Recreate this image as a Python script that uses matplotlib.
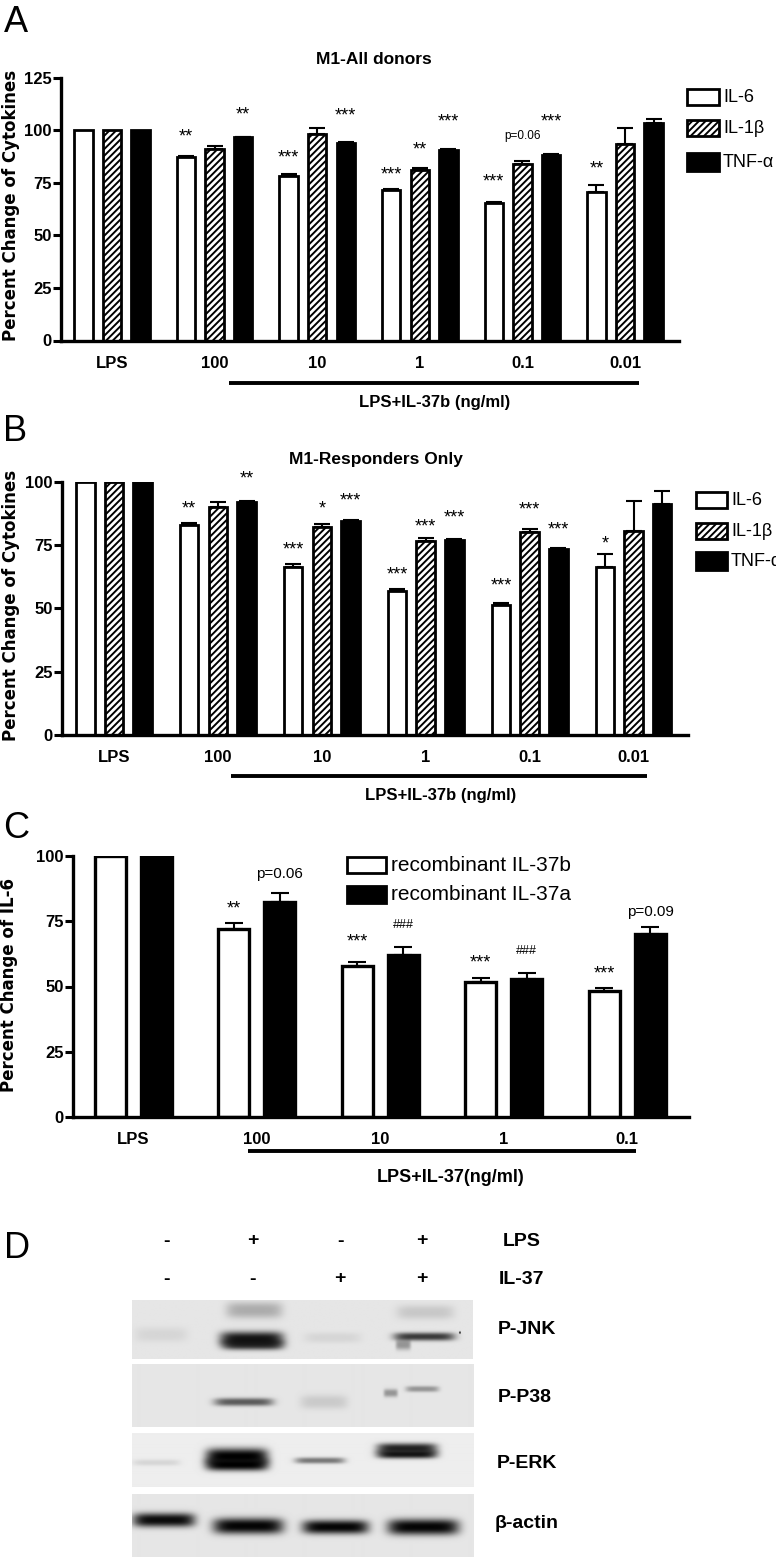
import numpy as np
import matplotlib
matplotlib.use('Agg')
import matplotlib.pyplot as plt
from matplotlib.patches import Rectangle

plt.rcParams['font.family'] = ['Liberation Sans', 'DejaVu Sans']
plt.rcParams['hatch.linewidth'] = 1.4

W, H = 776, 1561

# panel A
groups_a = ['LPS', '100', '10', '1', '0.1', '0.01']
il6_a = [100, 87, 78.3, 71.5, 65.2, 70.7]
il1_a = [100, 90.8, 98.1, 81, 83.9, 93.2]
tnf_a = [100, 96.5, 94, 90.7, 88.3, 103.2]
il6_a_err = [0, 0.8, 0.7, 0.7, 0.6, 3.2]
il1_a_err = [0, 1.8, 2.7, 1, 1.2, 7.9]
tnf_a_err = [0, 0.3, 0.3, 0.1, 0.3, 2.3]
notes_a = [(0, 1, '**', 99.5), (0, 2, '***', 89.5), (0, 3, '***', 81.5), (0, 4, '***', 78), (0, 5, '**', 84),
           (1, 3, '**', 93.4), (2, 1, '**', 110), (2, 2, '***', 109.5), (2, 3, '***', 106.3), (2, 4, '***', 106.3)]

# panel B
groups_b = ['LPS', '100', '10', '1', '0.1', '0.01']
il6_b = [100, 82.9, 66.5, 56.8, 51.5, 66.5]
il1_b = [100, 90, 82, 76.5, 80, 80.5]
tnf_b = [100, 92, 84.5, 77, 73.5, 91]
il6_b_err = [0, 0.9, 0.9, 0.7, 0.5, 4.8]
il1_b_err = [0, 1.8, 1.3, 1.4, 1.3, 11.9]
tnf_b_err = [0, 0.4, 0.3, 0.3, 0.3, 5.3]
notes_b = [(0, 1, '**', 91.4), (0, 2, '***', 75.3), (0, 3, '***', 65.4), (0, 4, '***', 61.2), (0, 5, '*', 77.6),
           (1, 2, '*', 91.4), (1, 3, '***', 84.2), (1, 4, '***', 91.2),
           (2, 1, '**', 103.3), (2, 2, '***', 94.7), (2, 3, '***', 87.9), (2, 4, '***', 83.3)]

# panel C
groups_c = ['LPS', '100', '10', '1', '0.1']
il37b = [100, 71.9, 57.9, 51.9, 48.3]
il37a = [100, 82.5, 62, 52.9, 70.1]
il37b_err = [0, 2.5, 1.6, 1.4, 1.1]
il37a_err = [0, 3.3, 3.3, 2.3, 2.7]
notes_c = [(0, 1, '**', 81.8), (0, 2, '***', 69), (0, 3, '***', 61), (0, 4, '***', 56.9)]
hash_c = [(1, 2, '###', 73.5), (1, 3, '###', 63.6)]
pvals_c = [(1, 1, 'p=0.06', 93), (1, 4, 'p=0.09', 78.6)]

# panel D, faked blot bands: x0, x1, y, thickness, darkness
blots = [
    ('P-JNK', 132, 472, 1300, 1359, 0.90, [(135, 187, 1335, 7, .07), (226, 282, 1311, 8, .25), (220, 283, 1339, 7, .9), (222, 283, 1345, 5, .75),
        (304, 360, 1338, 5, .07), (396, 453, 1313, 7, .13), (393, 454, 1337, 4, .75), (395, 410, 1345, 5, .35), (458, 460, 1333, 1, .8)]),
    ('P-P38', 132, 473, 1364, 1427, 0.90, [(214, 273, 1402, 4, .6), (300, 347, 1402, 7, .12), (383, 397, 1393, 4, .35), (405, 438, 1389, 3, .35)]),
    ('P-ERK', 132, 474, 1433, 1487, 0.93, [(133, 180, 1463, 3, .1), (206, 268, 1457, 8, 1.), (206, 268, 1465, 6, 1.), (295, 345, 1461, 3, .5),
        (377, 437, 1449, 5, .85), (377, 437, 1455, 4, .9)]),
    ('β-actin', 132, 473, 1494, 1557, 0.90, [(133, 195, 1520, 7, .95), (213, 283, 1526, 8, .98), (302, 368, 1527, 7, .98), (387, 458, 1527, 8, .98)]),
]
lanes = [167, 253, 340, 422]
lps_row = ['-', '+', '-', '+']
il37_row = ['-', '-', '+', '+']

fig = plt.figure(figsize=(W / 100, H / 100), dpi=100, facecolor='white')
# full figure layer in pixels for the free text and the legends
page = fig.add_axes([0, 0, 1, 1], zorder=5)
page.set_xlim(0, W)
page.set_ylim(H, 0)
page.axis('off')


def panel(left, right, top, bottom, ymax, yticks, center0, step, bar_step, bar_w, names, series, errs, patterns, capsize, sublw):
    ax = fig.add_axes([left / W, 1 - bottom / H, (right - left) / W, (bottom - top) / H])
    ax.set_xlim((left - center0) / step, (right - center0) / step)
    ax.set_ylim(0, ymax)
    n = len(series)
    offs = [(j - (n - 1) / 2) * bar_step / step for j in range(n)]
    for j, (vals, err, pat) in enumerate(zip(series, errs, patterns)):
        xs = np.arange(len(vals)) + offs[j]
        fc = {'w': 'white', 'h': 'white', 'k': 'black'}[pat]
        ax.bar(xs, vals, bar_w / step, color=fc, edgecolor='black', linewidth=sublw, hatch='/////' if pat == 'h' else None, zorder=2)
        keep = [i for i in range(len(vals)) if err[i] > 0]
        ax.errorbar(xs[keep], np.array(vals)[keep], yerr=[np.zeros(len(keep)), np.array(err)[keep]], fmt='none',
                    ecolor='black', elinewidth=1.5, capsize=capsize, capthick=1.5, zorder=1)
    for s in ['top', 'right']:
        ax.spines[s].set_visible(False)
    for s in ['left', 'bottom']:
        ax.spines[s].set_linewidth(2.4)
    ax.set_yticks(yticks)
    ax.tick_params(axis='y', length=5.5, width=2.2, pad=1, labelsize=12)
    ax.set_xticks(range(len(names)))
    ax.set_xticklabels(names, fontweight='bold', fontsize=12)
    ax.tick_params(axis='x', length=0, pad=11)
    for t in ax.get_yticklabels():
        t.set_fontweight('bold')
    ax.patch.set_alpha(0)
    return ax, offs


def notes(ax, offs, rows, size, weight='normal', dy=-4):
    for s, g, label, y in rows:
        ax.annotate(label, (g + offs[s], y), xytext=(0, dy), textcoords='offset points', ha='center', va='center',
                    fontsize=size, fontweight=weight, annotation_clip=False)


def legend(x0, x1, items, tx, size):
    for y0, y1, label, pat in items:
        page.add_patch(Rectangle((x0, y0), x1 - x0, y1 - y0, fc='black' if pat == 'k' else 'white', ec='black', lw=2.0,
                                 hatch='/////' if pat == 'h' else None))
        page.text(tx, (y0 + y1) / 2, label, fontsize=size, va='center', ha='left')


# A
ax_a, off_a = panel(61, 679, 77.5, 340.5, 125, [0, 25, 50, 75, 100, 125], 112, 102.6, 28.6, 18.5, groups_a,
                    [il6_a, il1_a, tnf_a], [il6_a_err, il1_a_err, tnf_a_err], 'whk', 5.5, 2.0)
notes(ax_a, off_a, notes_a, 13)
ax_a.annotate('p=0.06', (4, 97), ha='center', va='center', fontsize=8.5, annotation_clip=False)

# B
ax_b, off_b = panel(62, 688, 481.7, 735, 100, [0, 25, 50, 75, 100], 114, 103.9, 28.7, 18.5, groups_b,
                    [il6_b, il1_b, tnf_b], [il6_b_err, il1_b_err, tnf_b_err], 'whk', 5.5, 2.0)
notes(ax_b, off_b, notes_b, 13)

# C
ax_c, off_c = panel(73, 689, 856, 1117, 100, [0, 25, 50, 75, 100], 133, 123.5, 46, 31, groups_c,
                    [il37b, il37a], [il37b_err, il37a_err], 'wk', 6.8, 2.4)
notes(ax_c, off_c, notes_c, 13)
notes(ax_c, off_c, hash_c, 9, dy=0)
notes(ax_c, off_c, pvals_c, 11, dy=0)

ylab = dict(fontname='DejaVu Sans', fontweight='bold', fontsize=12, rotation=90, ha='center', va='center')
page.text(11, 205, 'Percent Change of Cytokines', **ylab)
page.text(11, 605, 'Percent Change of Cytokines', **ylab)
page.text(9, 985, 'Percent Change of IL-6', **ylab)

for x, y, letter in [(4, 22, 'A'), (3, 431, 'B'), (3, 828, 'C'), (4, 1248, 'D')]:
    page.text(x, y, letter, fontsize=26, va='center', ha='left')

page.text(374, 59, 'M1-All donors', fontsize=12.5, fontweight='bold', ha='center', va='center')
page.text(376, 459, 'M1-Responders Only', fontsize=12.5, fontweight='bold', ha='center', va='center')

page.plot([229, 639], [383, 383], color='black', lw=2.8, solid_capstyle='butt')
page.plot([231, 647], [776, 776], color='black', lw=2.8, solid_capstyle='butt')
page.plot([248, 636], [1151, 1151], color='black', lw=2.8, solid_capstyle='butt')
page.text(435, 402, 'LPS+IL-37b (ng/ml)', fontsize=12, fontweight='bold', ha='center', va='center')
page.text(441, 795, 'LPS+IL-37b (ng/ml)', fontsize=12, fontweight='bold', ha='center', va='center')
page.text(451, 1177, 'LPS+IL-37(ng/ml)', fontsize=13, fontweight='bold', ha='center', va='center')

legend(687, 719, [(89, 105, 'IL-6', 'w'), (120, 136, 'IL-1β', 'h'), (153, 171, 'TNF-α', 'k')], 723, 13)
legend(696, 727, [(492, 508, 'IL-6', 'w'), (523, 539, 'IL-1β', 'h'), (552, 570, 'TNF-α', 'k')], 731, 13)
legend(347, 386, [(857, 873, 'recombinant IL-37b', 'w'), (886, 903, 'recombinant IL-37a', 'k')], 391, 15)

# D, blots
for name, x0, x1, y0, y1, bg, bands in blots:
    xx, yy = np.meshgrid(np.arange(x0, x1) + 0.5, np.arange(y0, y1) + 0.5)
    img = np.full(xx.shape, bg, dtype=float)
    for bx0, bx1, by, th, dark in bands:
        cx, hw = (bx0 + bx1) / 2, (bx1 - bx0) / 2
        prof = np.exp(-np.abs((xx - cx) / hw) ** 6) * np.exp(-np.abs((yy - by) / th) ** 2.5)
        img = img * (1 - dark * prof)
    ax_blot = fig.add_axes([x0 / W, 1 - y1 / H, (x1 - x0) / W, (y1 - y0) / H])
    ax_blot.imshow(img, cmap='gray', vmin=0, vmax=1, aspect='auto', interpolation='bilinear')
    ax_blot.axis('off')

lane_font = dict(fontsize=14, fontweight='bold', ha='center', va='center')
for x, a, b in zip(lanes, lps_row, il37_row):
    page.text(x, 1241, a, **lane_font)
    page.text(x, 1279, b, **lane_font)
page.text(522, 1242, 'LPS', **lane_font)
page.text(522, 1279, 'IL-37', **lane_font)
for name, x, y in [('P-JNK', 527, 1329), ('P-P38', 525, 1397), ('P-ERK', 527, 1463), ('β-actin', 527, 1523)]:
    page.text(x, y, name, **lane_font)

fig.savefig('out.png', dpi=100)
